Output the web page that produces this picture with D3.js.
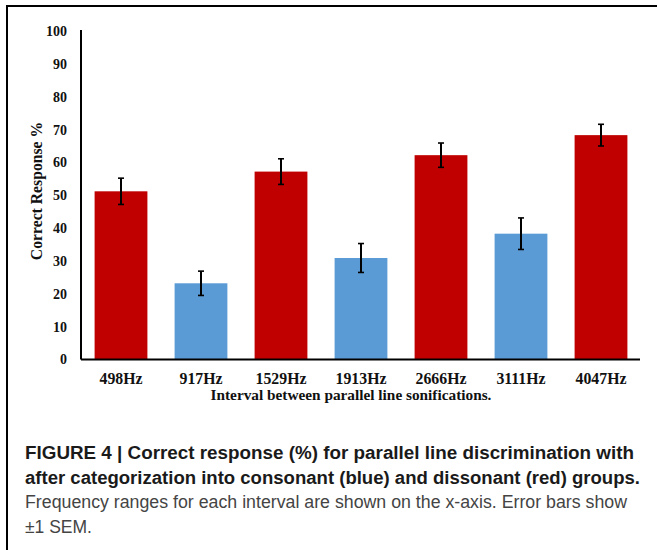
<!DOCTYPE html>
<html>
<head>
<meta charset="utf-8">
<script src="https://cdn.jsdelivr.net/npm/d3@7"></script>
<style>
  html, body { margin: 0; padding: 0; background: #fff; }
  svg { display: block; }
</style>
</head>
<body>
<svg id="chart" width="657" height="550"></svg>
<script>
// ---- data ----
const categories = ["498Hz", "917Hz", "1529Hz", "1913Hz", "2666Hz", "3111Hz", "4047Hz"];
const values     = [51.2, 23.2, 57.2, 30.9, 62.2, 38.3, 68.3];
const sem        = [4.0, 3.7, 3.9, 4.4, 3.7, 4.8, 3.3];
const groups     = ["dissonant", "consonant", "dissonant", "consonant", "dissonant", "consonant", "dissonant"];
const yTicks     = [0, 10, 20, 30, 40, 50, 60, 70, 80, 90, 100];
const yTitle     = "Correct Response %";
const xTitle     = "Interval between parallel line sonifications.";
const captionBold = [
  "FIGURE 4 | Correct response (%) for parallel line discrimination with",
  "after categorization into consonant (blue) and dissonant (red) groups."
];
const captionText = [
  "Frequency ranges for each interval are shown on the x-axis. Error bars show",
  "\u00B11 SEM."
];

const colors = { dissonant: "#C00000", consonant: "#5B9BD5" };

const svg = d3.select("#chart");

// frame (cropped figure border: left and top)
svg.append("line").attr("x1", 7).attr("y1", 6).attr("x2", 657).attr("y2", 6)
  .attr("stroke", "#000").attr("stroke-width", 2);
svg.append("line").attr("x1", 7).attr("y1", 5).attr("x2", 7).attr("y2", 550)
  .attr("stroke", "#000").attr("stroke-width", 2);

const x = d3.scaleBand().domain(categories).range([81, 641]).paddingInner(0.34).paddingOuter(0.17);
const y = d3.scaleLinear().domain([0, 100]).range([359.5, 31]);

const serif = "'Liberation Serif', 'Times New Roman', serif";

// bars
svg.append("g").selectAll("rect").data(categories).join("rect")
  .attr("x", d => x(d))
  .attr("width", x.bandwidth())
  .attr("y", (d, i) => y(values[i]))
  .attr("height", (d, i) => y(0) - y(values[i]))
  .attr("fill", (d, i) => colors[groups[i]]);

// error bars
const eg = svg.append("g").attr("stroke", "#000").attr("stroke-width", 2);
categories.forEach((c, i) => {
  const cx = x(c) + x.bandwidth() / 2;
  const top = y(values[i] + sem[i]);
  const bot = y(values[i] - sem[i]);
  eg.append("line").attr("x1", cx).attr("x2", cx).attr("y1", top).attr("y2", bot);
  eg.append("line").attr("x1", cx - 3).attr("x2", cx + 3).attr("y1", top).attr("y2", top).attr("stroke-width", 1.6);
  eg.append("line").attr("x1", cx - 3).attr("x2", cx + 3).attr("y1", bot).attr("y2", bot).attr("stroke-width", 1.6);
});

// y axis
const yAxis = d3.axisLeft(y).tickValues(yTicks).tickSize(0).tickPadding(14).tickFormat(d3.format("d"));
const yg = svg.append("g").attr("transform", "translate(81,0)").call(yAxis);
yg.select(".domain").attr("stroke", "#000").attr("stroke-width", 2).attr("d", `M0,${y(100) - 1}V${y(0)}`);
yg.selectAll("text").attr("font-family", serif).attr("font-weight", "bold").attr("font-size", 14).attr("fill", "#111");

// x axis
const xAxis = d3.axisBottom(x).tickSize(0).tickPadding(13);
const xg = svg.append("g").attr("transform", `translate(0,${y(0)})`).call(xAxis);
xg.select(".domain").attr("stroke", "#000").attr("stroke-width", 2).attr("d", "M81,0H640");
xg.selectAll("text").attr("font-family", serif).attr("font-weight", "bold").attr("font-size", 15.8).attr("fill", "#111");

// axis titles
svg.append("text").attr("x", 351).attr("y", 400).attr("text-anchor", "middle")
  .attr("font-family", serif).attr("font-weight", "bold").attr("font-size", 15.3).attr("fill", "#111")
  .text(xTitle);
svg.append("text").attr("transform", "translate(42,191) rotate(-90)").attr("text-anchor", "middle")
  .attr("font-family", serif).attr("font-weight", "bold").attr("font-size", 15.7).attr("fill", "#111")
  .text(yTitle);

// caption
const sans = "'Liberation Sans', Arial, Helvetica, sans-serif";
const boldLen = [609, 615];
const textLen = [602, null];
captionBold.forEach((t, i) => {
  svg.append("text").attr("x", 25).attr("y", 459 + i * 24.5)
    .attr("font-family", sans).attr("font-weight", "bold").attr("font-size", 17.5).attr("fill", "#1a1a1a")
    .attr("textLength", boldLen[i]).attr("lengthAdjust", "spacingAndGlyphs")
    .text(t);
});
captionText.forEach((t, i) => {
  const tx = svg.append("text").attr("x", 25).attr("y", 508 + i * 24.5)
    .attr("font-family", sans).attr("font-size", 17.5).attr("fill", "#444")
    .text(t);
  if (textLen[i]) tx.attr("textLength", textLen[i]).attr("lengthAdjust", "spacingAndGlyphs");
});
</script>
</body>
</html>
